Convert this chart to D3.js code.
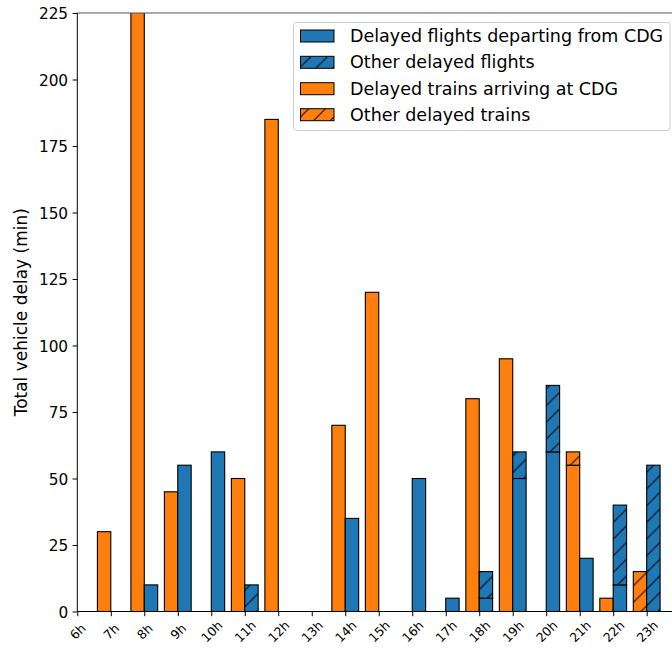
<!DOCTYPE html>
<html>
<head>
<meta charset="utf-8">
<script src="https://cdn.jsdelivr.net/npm/d3@7"></script>
<style>
  html, body { margin: 0; padding: 0; background: #fff; }
  svg { display: block; font-family: "DejaVu Sans", sans-serif; }
</style>
</head>
<body>
<svg id="chart" width="672" height="648"></svg>
<script>
// Hourly delay totals (minutes)
const hourValues = [6, 7, 8, 9, 10, 11, 12, 13, 14, 15, 16, 17, 18, 19, 20, 21, 22, 23];
const hourLabels = ["6h", "7h", "8h", "9h", "10h", "11h", "12h", "13h", "14h", "15h", "16h", "17h", "18h", "19h", "20h", "21h", "22h", "23h"];
const flightsCDG   = [0, 0, 10, 55, 60, 0, 0, 0, 35, 0, 50, 5, 5, 50, 60, 20, 10, 0];
const flightsOther = [0, 0, 0, 0, 0, 10, 0, 0, 0, 0, 0, 0, 10, 10, 25, 0, 30, 55];
const trainsCDG    = [0, 30, 240, 45, 0, 50, 185, 0, 70, 120, 0, 0, 80, 95, 0, 55, 5, 0];
const trainsOther  = [0, 0, 0, 0, 0, 0, 0, 0, 0, 0, 0, 0, 0, 0, 0, 5, 0, 15];
const yTicks = [0, 25, 50, 75, 100, 125, 150, 175, 200, 225];
const legendLabels = [
  "Delayed flights departing from CDG",
  "Other delayed flights",
  "Delayed trains arriving at CDG",
  "Other delayed trains"
];

const BLUE = "#1f77b4", ORANGE = "#ff7f0e";
const svg = d3.select("#chart");
const plotLeft = 77.3, plotTop = 13, plotBottom = 611.5, plotRight = 672;
const barW = 0.4;

const x = d3.scaleLinear().domain([6, 23]).range([plotLeft, 646.7]);
const y = d3.scaleLinear().domain([0, 225]).range([plotBottom, plotTop]);

// hatch patterns ("/" lines over the fill colour)
const defs = svg.append("defs");
const hs = 16.7;
[["hatchBlue", BLUE], ["hatchOrange", ORANGE]].forEach(([id, col]) => {
  const p = defs.append("pattern").attr("id", id)
    .attr("patternUnits", "userSpaceOnUse")
    .attr("width", hs).attr("height", hs);
  p.append("rect").attr("width", hs).attr("height", hs).attr("fill", col);
  p.append("path")
    .attr("d", `M0,${hs} L${hs},0 M${-hs/2},${hs/2} L${hs/2},${-hs/2} M${hs/2},${hs*1.5} L${hs*1.5},${hs/2}`)
    .attr("stroke", "#000").attr("stroke-width", 1).attr("fill", "none");
});
defs.append("clipPath").attr("id", "plotClip")
  .append("rect").attr("x", plotLeft).attr("y", plotTop)
  .attr("width", plotRight - plotLeft).attr("height", plotBottom - plotTop);

const plot = svg.append("g").attr("clip-path", "url(#plotClip)");

// stacked bars: trains left of each tick, flights right of it
const rows = hourValues.map((h, i) => ({
  h,
  segs: [
    { x0: h - barW, x1: h, lo: 0, hi: trainsCDG[i], fill: ORANGE },
    { x0: h - barW, x1: h, lo: trainsCDG[i], hi: trainsCDG[i] + trainsOther[i], fill: "url(#hatchOrange)" },
    { x0: h, x1: h + barW, lo: 0, hi: flightsCDG[i], fill: BLUE },
    { x0: h, x1: h + barW, lo: flightsCDG[i], hi: flightsCDG[i] + flightsOther[i], fill: "url(#hatchBlue)" }
  ].filter(s => s.hi > s.lo)
}));

plot.selectAll("g.hour").data(rows).join("g").attr("class", "hour")
  .selectAll("rect").data(d => d.segs).join("rect")
  .attr("x", d => x(d.x0))
  .attr("width", d => x(d.x1) - x(d.x0))
  .attr("y", d => y(d.hi))
  .attr("height", d => y(d.lo) - y(d.hi))
  .attr("fill", d => d.fill)
  .attr("stroke", "#000")
  .attr("stroke-width", 1.1);

// spines
svg.append("line").attr("x1", plotLeft).attr("x2", plotRight).attr("y1", plotTop).attr("y2", plotTop)
  .attr("stroke", "#555").attr("stroke-width", 1.2);
svg.append("line").attr("x1", plotLeft).attr("x2", plotLeft).attr("y1", plotTop).attr("y2", plotBottom)
  .attr("stroke", "#000").attr("stroke-width", 1);
svg.append("line").attr("x1", plotLeft).attr("x2", plotRight).attr("y1", plotBottom).attr("y2", plotBottom)
  .attr("stroke", "#000").attr("stroke-width", 1);

// y axis
const yAxis = svg.append("g").attr("transform", `translate(${plotLeft},0)`)
  .call(d3.axisLeft(y).tickValues(yTicks).tickSize(4.7).tickPadding(4.5));
yAxis.select(".domain").remove();
yAxis.selectAll("text").attr("font-size", 15.3).attr("fill", "#000")
  .attr("font-family", "DejaVu Sans").attr("dy", "0.36em");
yAxis.selectAll("line").attr("stroke", "#000");

// x axis
const xAxis = svg.append("g").attr("transform", `translate(0,${plotBottom})`)
  .call(d3.axisBottom(x).tickValues(hourValues).tickFormat((d, i) => hourLabels[i]).tickSize(4.7));
xAxis.select(".domain").remove();
xAxis.selectAll("line").attr("stroke", "#000");
xAxis.selectAll("text")
  .attr("font-size", 12.5).attr("font-family", "DejaVu Sans").attr("fill", "#000")
  .attr("y", 0).attr("dy", null)
  .attr("text-anchor", "middle").attr("dominant-baseline", "central")
  .attr("transform", "translate(0,20) rotate(-45)");

// y label
svg.append("text")
  .attr("transform", `translate(21,${(plotTop + plotBottom) / 2}) rotate(-90)`)
  .attr("text-anchor", "middle").attr("dominant-baseline", "central")
  .attr("font-size", 17).attr("fill", "#000")
  .text("Total vehicle delay (min)");

// legend
const legend = svg.append("g");
legend.append("rect").attr("x", 293.5).attr("y", 22.5).attr("width", 376.5).attr("height", 108)
  .attr("rx", 3).attr("fill", "#fff").attr("fill-opacity", 0.8)
  .attr("stroke", "#ccc").attr("stroke-width", 1);
const legendFills = [BLUE, "url(#hatchBlue)", ORANGE, "url(#hatchOrange)"];
const rowY = [36, 62.3, 88.7, 114.7];
legendLabels.forEach((lab, i) => {
  legend.append("rect").attr("x", 300.5).attr("y", rowY[i] - 6).attr("width", 33.5).attr("height", 12)
    .attr("fill", legendFills[i]).attr("stroke", "#000").attr("stroke-width", 1);
  legend.append("text").attr("x", 350).attr("y", rowY[i])
    .attr("dominant-baseline", "central").attr("font-size", 17.5).attr("fill", "#000")
    .text(lab);
});
</script>
</body>
</html>
